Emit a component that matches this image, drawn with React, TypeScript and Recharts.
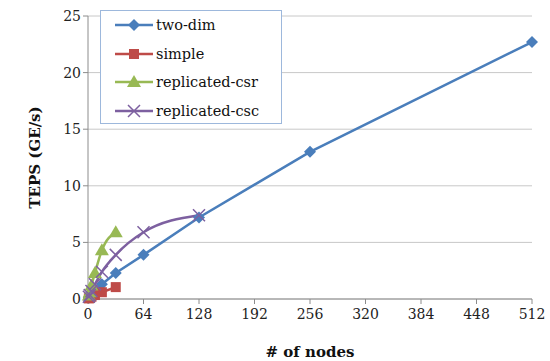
import { CartesianGrid, Line, LineChart, XAxis, YAxis } from "recharts";

const NODES = [1, 2, 4, 8, 16, 32, 64, 128, 256, 512];
const TWO_DIM = [0.1, 0.2, 0.4, 0.7, 1.3, 2.3, 3.9, 7.2, 13.0, 22.7];
const SIMPLE = [0.05, 0.1, 0.2, 0.35, 0.6, 1.05];
const REP_CSR = [0.3, 0.6, 1.2, 2.3, 4.3, 5.9];
const REP_CSC = [0.2, 0.35, 0.7, 1.3, 2.4, 3.9, 5.9, 7.4];
const X_TICKS = [0, 64, 128, 192, 256, 320, 384, 448, 512];
const Y_TICKS = [0, 5, 10, 15, 20, 25];

const FONT = "'DejaVu Serif', serif";

type Marker = "diamond" | "square" | "triangle" | "cross";

const SERIES: { name: string; values: number[]; color: string; marker: Marker; curve: "linear" | "monotone" }[] = [
  { name: "two-dim", values: TWO_DIM, color: "#4a7ebb", marker: "diamond", curve: "linear" },
  { name: "simple", values: SIMPLE, color: "#be4b48", marker: "square", curve: "linear" },
  { name: "replicated-csr", values: REP_CSR, color: "#98b954", marker: "triangle", curve: "monotone" },
  { name: "replicated-csc", values: REP_CSC, color: "#7d60a0", marker: "cross", curve: "monotone" },
];

function markerShape(marker: Marker, cx: number, cy: number, color: string, k?: string | number) {
  switch (marker) {
    case "diamond":
      return <path key={k} d={`M${cx},${cy - 6}L${cx + 6},${cy}L${cx},${cy + 6}L${cx - 6},${cy}Z`} fill={color} />;
    case "square":
      return <rect key={k} x={cx - 5} y={cy - 5} width={10} height={10} fill={color} />;
    case "triangle":
      return <path key={k} d={`M${cx},${cy - 7}L${cx + 7},${cy + 5}L${cx - 7},${cy + 5}Z`} fill={color} />;
    default:
      return (
        <path
          key={k}
          d={`M${cx - 6},${cy - 6}L${cx + 6},${cy + 6}M${cx - 6},${cy + 6}L${cx + 6},${cy - 6}`}
          stroke={color}
          strokeWidth={1.5}
          fill="none"
        />
      );
  }
}

// legend box drawn over the plot, same as the excel one
function LegendBox() {
  return (
    <div
      style={{
        position: "absolute",
        left: 100,
        top: 10,
        width: 182,
        height: 114,
        border: "1px solid #9db8dc",
        background: "#fff",
        fontFamily: FONT,
        fontSize: 14.5,
        color: "#111",
        boxSizing: "border-box",
      }}
    >
      {SERIES.map((s) => (
        <div key={s.name} style={{ display: "flex", alignItems: "center", height: 28.5 }}>
          <svg width={54} height={16}>
            <line x1={14} y1={8} x2={52} y2={8} stroke={s.color} strokeWidth={2.5} />
            {markerShape(s.marker, 33, 8, s.color)}
          </svg>
          <span style={{ marginLeft: 1 }}>{s.name}</span>
        </div>
      ))}
    </div>
  );
}

export default function App() {
  return (
    <div style={{ position: "absolute", left: 0, top: 0, width: 550, height: 361, background: "#fff" }}>
      <LineChart width={550} height={361} margin={{ top: 16, right: 18, left: 10, bottom: 2 }}>
        <CartesianGrid horizontal vertical={false} stroke="#c8c8c8" />
        <XAxis
          type="number"
          dataKey="x"
          domain={[0, 512]}
          ticks={X_TICKS}
          interval={0}
          allowDuplicatedCategory={false}
          stroke="#8c8c8c"
          tickSize={5}
          tick={{ fontSize: 14, fontFamily: FONT, fill: "#222", dy: 3 }}
          height={60}
          label={{
            value: "# of nodes",
            position: "insideBottom",
            offset: 2,
            style: { fontFamily: FONT, fontSize: 15, fontWeight: "bold", fill: "#111" },
          }}
        />
        <YAxis
          type="number"
          domain={[0, 25]}
          ticks={Y_TICKS}
          interval={0}
          stroke="#8c8c8c"
          tickSize={5}
          tick={{ fontSize: 14, fontFamily: FONT, fill: "#222" }}
          width={78}
          label={{
            value: "TEPS (GE/s)",
            angle: -90,
            position: "insideLeft",
            offset: 25,
            style: { textAnchor: "middle", fontFamily: FONT, fontSize: 15, fontWeight: "bold", fill: "#111" },
          }}
        />
        {SERIES.map((s) => (
          <Line
            key={s.name}
            name={s.name}
            data={s.values.map((v, i) => ({ x: NODES[i], y: v }))}
            dataKey="y"
            type={s.curve}
            stroke={s.color}
            strokeWidth={2.5}
            dot={(p: any) => markerShape(s.marker, p.cx, p.cy, s.color, p.index)}
            activeDot={false}
            isAnimationActive={false}
          />
        ))}
      </LineChart>
      <LegendBox />
    </div>
  );
}
